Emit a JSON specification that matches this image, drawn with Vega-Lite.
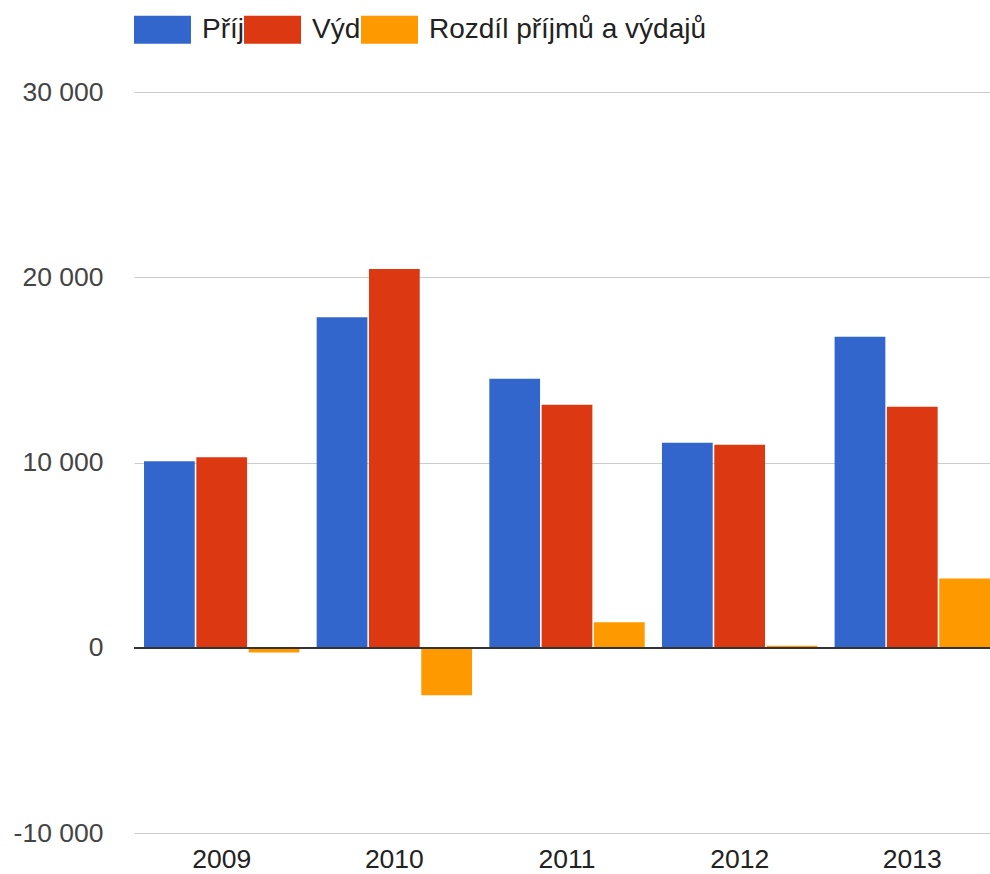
{
  "$schema": "https://vega.github.io/schema/vega-lite/v6.json",
  "autosize": "none",
  "width": 856,
  "height": 741,
  "padding": {"left": 134, "top": 92, "right": 0, "bottom": 41},
  "background": "white",
  "config": {
    "font": "Liberation Sans",
    "view": {"stroke": null}
  },
  "data": {
    "values": [
      {"year": "2009", "series": "Příjmy", "value": 10070},
      {"year": "2009", "series": "Výdaje", "value": 10280},
      {"year": "2009", "series": "Rozdíl příjmů a výdajů", "value": -250},
      {"year": "2010", "series": "Příjmy", "value": 17840},
      {"year": "2010", "series": "Výdaje", "value": 20450},
      {"year": "2010", "series": "Rozdíl příjmů a výdajů", "value": -2560},
      {"year": "2011", "series": "Příjmy", "value": 14520},
      {"year": "2011", "series": "Výdaje", "value": 13120},
      {"year": "2011", "series": "Rozdíl příjmů a výdajů", "value": 1370},
      {"year": "2012", "series": "Příjmy", "value": 11070},
      {"year": "2012", "series": "Výdaje", "value": 10960},
      {"year": "2012", "series": "Rozdíl příjmů a výdajů", "value": 110},
      {"year": "2013", "series": "Příjmy", "value": 16790},
      {"year": "2013", "series": "Výdaje", "value": 13010},
      {"year": "2013", "series": "Rozdíl příjmů a výdajů", "value": 3740}
    ]
  },
  "layer": [
    {
      "mark": {"type": "bar"},
      "encoding": {
        "x": {
          "field": "year",
          "type": "nominal",
          "scale": {"range": [0, 866], "paddingInner": 0.1, "paddingOuter": 0.058},
          "axis": {
            "title": null,
            "labelAngle": 0,
            "labelFontSize": 26.5,
            "labelColor": "#222222",
            "labelPadding": 13,
            "domain": false,
            "ticks": false,
            "grid": false
          }
        },
        "xOffset": {
          "field": "series",
          "type": "nominal",
          "sort": ["Příjmy", "Výdaje", "Rozdíl příjmů a výdajů"],
          "scale": {"paddingInner": 0.03, "paddingOuter": 0}
        },
        "y": {
          "field": "value",
          "type": "quantitative",
          "scale": {"domain": [-10000, 30000], "nice": false},
          "axis": {
            "title": null,
            "values": [-10000, 0, 10000, 20000, 30000],
            "labelExpr": "replace(replace(format(datum.value, ','), ',', ' '), '−', '-')",
            "labelFontSize": 26.5,
            "labelColor": "#444444",
            "labelPadding": 31,
            "domain": false,
            "ticks": false,
            "gridColor": "#cccccc",
            "gridWidth": 1
          }
        },
        "color": {
          "field": "series",
          "type": "nominal",
          "scale": {
            "domain": ["Příjmy", "Výdaje", "Rozdíl příjmů a výdajů"],
            "range": ["#3366cc", "#dc3912", "#ff9900"]
          },
          "legend": {
            "title": null,
            "orient": "top",
            "direction": "horizontal",
            "offset": 48,
            "symbolType": "M-1,-0.49H1V0.49H-1Z",
            "symbolSize": 3249,
            "symbolStrokeWidth": 0,
            "symbolOpacity": 1,
            "labelExpr": "datum.label == 'Příjmy' ? 'Příj' : datum.label == 'Výdaje' ? 'Výd' : datum.label",
            "labelFontSize": 28,
            "labelColor": "#222222",
            "labelOffset": 11,
            "columnPadding": -1,
            "labelLimit": 400
          }
        }
      }
    },
    {
      "mark": {"type": "rule", "color": "#333333", "strokeWidth": 1.5},
      "encoding": {"y": {"datum": 0, "type": "quantitative"}}
    }
  ]
}
